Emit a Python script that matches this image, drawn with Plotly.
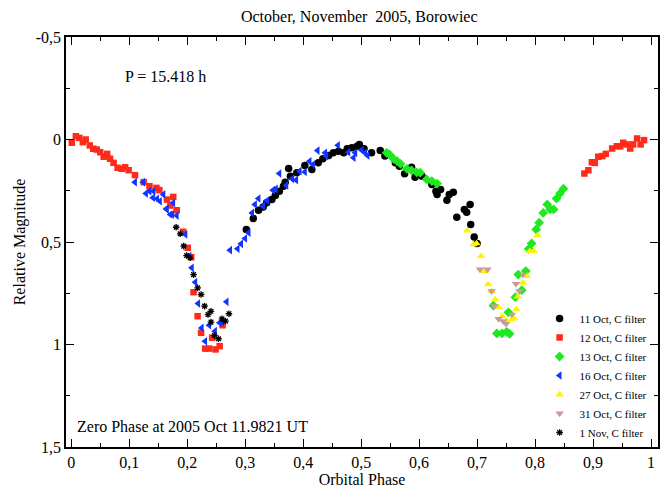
import plotly.graph_objects as go

# ---- data (orbital phase, relative magnitude) ----
oct11_phase = [0.302, 0.314, 0.323, 0.331, 0.337, 0.346, 0.352, 0.359, 0.366, 0.369, 0.375, 0.378,
               0.389, 0.403, 0.415, 0.426, 0.434, 0.444, 0.452, 0.461, 0.470, 0.476, 0.484, 0.493,
               0.497, 0.505, 0.518, 0.533, 0.541, 0.559, 0.566, 0.575, 0.587, 0.593, 0.605, 0.622,
               0.629, 0.637, 0.631, 0.652, 0.659, 0.648, 0.688, 0.678, 0.682, 0.665, 0.689, 0.695,
               0.700]
oct11_mag = [0.439, 0.385, 0.345, 0.329, 0.309, 0.293, 0.273, 0.252, 0.228, 0.208, 0.141, 0.179,
             0.162, 0.127, 0.146, 0.114, 0.094, 0.078, 0.065, 0.057, 0.065, 0.045, 0.040, 0.033,
             0.024, 0.045, 0.065, 0.054, 0.081, 0.114, 0.130, 0.167, 0.135, 0.184, 0.179, 0.220,
             0.252, 0.244, 0.268, 0.268, 0.257, 0.296, 0.317, 0.341, 0.355, 0.379, 0.415, 0.475,
             0.507]

oct12_phase = [0.001, 0.008, 0.014, 0.020, 0.025, 0.032, 0.038, 0.044, 0.050, 0.056, 0.062, 0.067,
               0.073, 0.080, 0.087, 0.093, 0.099, 0.110, 0.125, 0.135, 0.147, 0.152, 0.165, 0.176,
               0.171, 0.182, 0.193, 0.201, 0.207, 0.211, 0.218, 0.224, 0.243, 0.231, 0.238, 0.249,
               0.256, 0.261,
               0.885, 0.892, 0.898, 0.903, 0.909, 0.916, 0.922, 0.933, 0.941, 0.947, 0.952, 0.958,
               0.964, 0.969, 0.976, 0.982, 0.988]
oct12_mag = [0.016, -0.016, -0.008, 0.013, 0.000, 0.029, 0.045, 0.049, 0.062, 0.084, 0.070, 0.094,
             0.114, 0.138, 0.143, 0.135, 0.150, 0.174, 0.208, 0.228, 0.236, 0.247, 0.293, 0.280,
             0.322, 0.345, 0.450, 0.528, 0.574, 0.745, 0.862, 0.943, 0.967, 1.020, 1.020, 1.024,
             1.008, 0.906,
             0.166, 0.150, 0.111, 0.114, 0.084, 0.081, 0.070, 0.044, 0.033, 0.033, 0.016, 0.024,
             0.044, 0.024, -0.005, 0.024, 0.003]

oct13_phase = [0.544, 0.549, 0.556, 0.562, 0.568, 0.579, 0.587, 0.596, 0.602, 0.613, 0.622, 0.631,
               0.734, 0.743, 0.751, 0.756, 0.728, 0.754, 0.766, 0.777, 0.771, 0.784, 0.789, 0.794,
               0.802, 0.807, 0.814, 0.821, 0.826, 0.832, 0.837, 0.843, 0.849]
oct13_mag = [0.065, 0.073, 0.094, 0.106, 0.119, 0.143, 0.151, 0.160, 0.162, 0.195, 0.203, 0.215,
             0.946, 0.946, 0.938, 0.948, 0.810, 0.843, 0.769, 0.735, 0.659, 0.642, 0.533, 0.507,
             0.439, 0.406, 0.358, 0.317, 0.341, 0.341, 0.288, 0.263, 0.240]

oct16_phase = [0.110, 0.124, 0.129, 0.135, 0.142, 0.148, 0.141, 0.153, 0.159, 0.176, 0.165, 0.171,
               0.182, 0.164, 0.174, 0.197, 0.204, 0.208, 0.214, 0.219, 0.225, 0.231, 0.238, 0.248,
               0.256, 0.260, 0.268,
               0.274, 0.287, 0.293, 0.300, 0.306, 0.312, 0.317, 0.323, 0.331, 0.338, 0.348, 0.353,
               0.359, 0.371, 0.381, 0.388, 0.394, 0.403, 0.411, 0.417, 0.425, 0.438, 0.440, 0.460,
               0.478, 0.487, 0.490, 0.501, 0.507, 0.511]
oct16_mag = [0.208, 0.208, 0.263, 0.252, 0.252, 0.289, 0.284, 0.301, 0.268, 0.309, 0.341, 0.366,
             0.371, 0.338, 0.366, 0.463, 0.569, 0.626, 0.696, 0.800, 0.919, 0.984, 0.906, 0.935,
             0.894, 0.891, 0.792,
             0.540, 0.533, 0.509, 0.483, 0.455, 0.358, 0.317, 0.288, 0.325, 0.298, 0.247, 0.241,
             0.166, 0.224, 0.192, 0.198, 0.154, 0.158, 0.106, 0.122, 0.054, 0.065, 0.081, 0.028,
             0.062, 0.089, 0.065, 0.052, 0.065, 0.078]

oct27_phase = [0.683, 0.694, 0.699, 0.707, 0.713, 0.719, 0.725, 0.731, 0.737, 0.743, 0.751, 0.760,
               0.763, 0.768, 0.770, 0.779, 0.786, 0.791, 0.798, 0.804]
oct27_mag = [0.444, 0.512, 0.507, 0.569, 0.642, 0.707, 0.740, 0.780, 0.818, 0.862, 0.886, 0.878,
             0.870, 0.829, 0.767, 0.699, 0.667, 0.545, 0.545, 0.468]

oct31_phase = [0.705, 0.718, 0.725, 0.730, 0.737, 0.745, 0.750, 0.760, 0.767, 0.773, 0.779]
oct31_mag = [0.634, 0.634, 0.740, 0.813, 0.875, 0.886, 0.899, 0.854, 0.704, 0.740, 0.659]

nov1_phase = [0.181, 0.188, 0.194, 0.199, 0.205, 0.211, 0.218, 0.224, 0.230, 0.236, 0.241, 0.241,
              0.260, 0.266, 0.272, 0.247, 0.254]
nov1_mag = [0.428, 0.460, 0.520, 0.566, 0.577, 0.659, 0.724, 0.756, 0.813, 0.854, 0.838, 0.891,
            0.875, 0.886, 0.850, 0.956, 0.972]

x_tickvals = [0, 0.1, 0.2, 0.3, 0.4, 0.5, 0.6, 0.7, 0.8, 0.9, 1]
x_ticktext = ["0", "0,1", "0,2", "0,3", "0,4", "0,5", "0,6", "0,7", "0,8", "0,9", "1"]
y_tickvals = [-0.5, 0, 0.5, 1, 1.5]
y_ticktext = ["-0,5", "0", "0,5", "1", "1,5"]

FONT = "Liberation Serif"

series = [
    ("11 Oct, C filter", oct11_phase, oct11_mag, dict(symbol="circle", size=7.5, color="black")),
    ("12 Oct, C filter", oct12_phase, oct12_mag, dict(symbol="square", size=6.5, color="#ff2a1a")),
    ("13 Oct, C filter", oct13_phase, oct13_mag, dict(symbol="diamond", size=7.5, color="#1ee81e")),
    ("16 Oct, C filter", oct16_phase, oct16_mag, dict(symbol="triangle-left", size=7.5, color="#1234ff")),
    ("27 Oct, C filter", oct27_phase, oct27_mag, dict(symbol="triangle-up", size=7.5, color="#fff200")),
    ("31 Oct, C filter", oct31_phase, oct31_mag, dict(symbol="triangle-down", size=7.5, color="#c89c94")),
    ("1 Nov, C filter", nov1_phase, nov1_mag,
     dict(symbol="asterisk-open", size=5.5, color="black", line=dict(color="black", width=1.3))),
]

fig = go.Figure()
for name, xs, ys, mk in series:
    m = dict(mk)
    if "line" not in m:
        m["line"] = dict(width=0)
    fig.add_trace(go.Scatter(x=xs, y=ys, mode="markers", name=name, marker=m))

axis_common = dict(
    showgrid=False, zeroline=False, showline=True, linecolor="black", linewidth=1.5,
    mirror="ticks", ticks="inside", ticklen=8, tickwidth=1, tickcolor="black",
    automargin=False,
    tickfont=dict(family=FONT, size=16, color="black"),
)

fig.update_layout(
    width=669, height=489,
    margin=dict(l=66, r=11, t=37, b=42, autoexpand=False),
    paper_bgcolor="white", plot_bgcolor="white",
    font=dict(family=FONT, color="black"),
    title=dict(text="October, November  2005, Borowiec", x=0.537, xanchor="center",
               y=0.967, yanchor="middle", font=dict(family=FONT, size=16, color="black")),
    xaxis=dict(axis_common, range=[-0.009, 1.012], tickmode="array", tickvals=x_tickvals,
               ticktext=x_ticktext,
               minor=dict(dtick=0.05, tick0=0, ticks="inside", ticklen=4, tickcolor="black"),
               title=dict(text="Orbital Phase", font=dict(family=FONT, size=16, color="black"),
                          standoff=3)),
    yaxis=dict(axis_common, range=[1.5, -0.5], tickmode="array", tickvals=y_tickvals,
               ticktext=y_ticktext,
               minor=dict(dtick=0.25, tick0=0, ticks="inside", ticklen=4, tickcolor="black"),
               title=dict(text="Relative Magnitude", font=dict(family=FONT, size=16, color="black"),
                          standoff=6)),
    legend=dict(x=0.80, y=0.0, xanchor="left", yanchor="bottom",
                bgcolor="rgba(0,0,0,0)", font=dict(family=FONT, size=11, color="black"),
                itemwidth=30, tracegroupgap=0),
    annotations=[
        dict(text="P = 15.418 h", x=0.090, y=-0.308, xref="x", yref="y", xanchor="left",
             yanchor="middle", showarrow=False, font=dict(family=FONT, size=16, color="black")),
        dict(text="Zero Phase at 2005 Oct 11.9821 UT", x=0.007, y=1.40, xref="x", yref="y",
             xanchor="left", yanchor="middle", showarrow=False,
             font=dict(family=FONT, size=16, color="black")),
    ],
)

fig.write_html("out.html")
